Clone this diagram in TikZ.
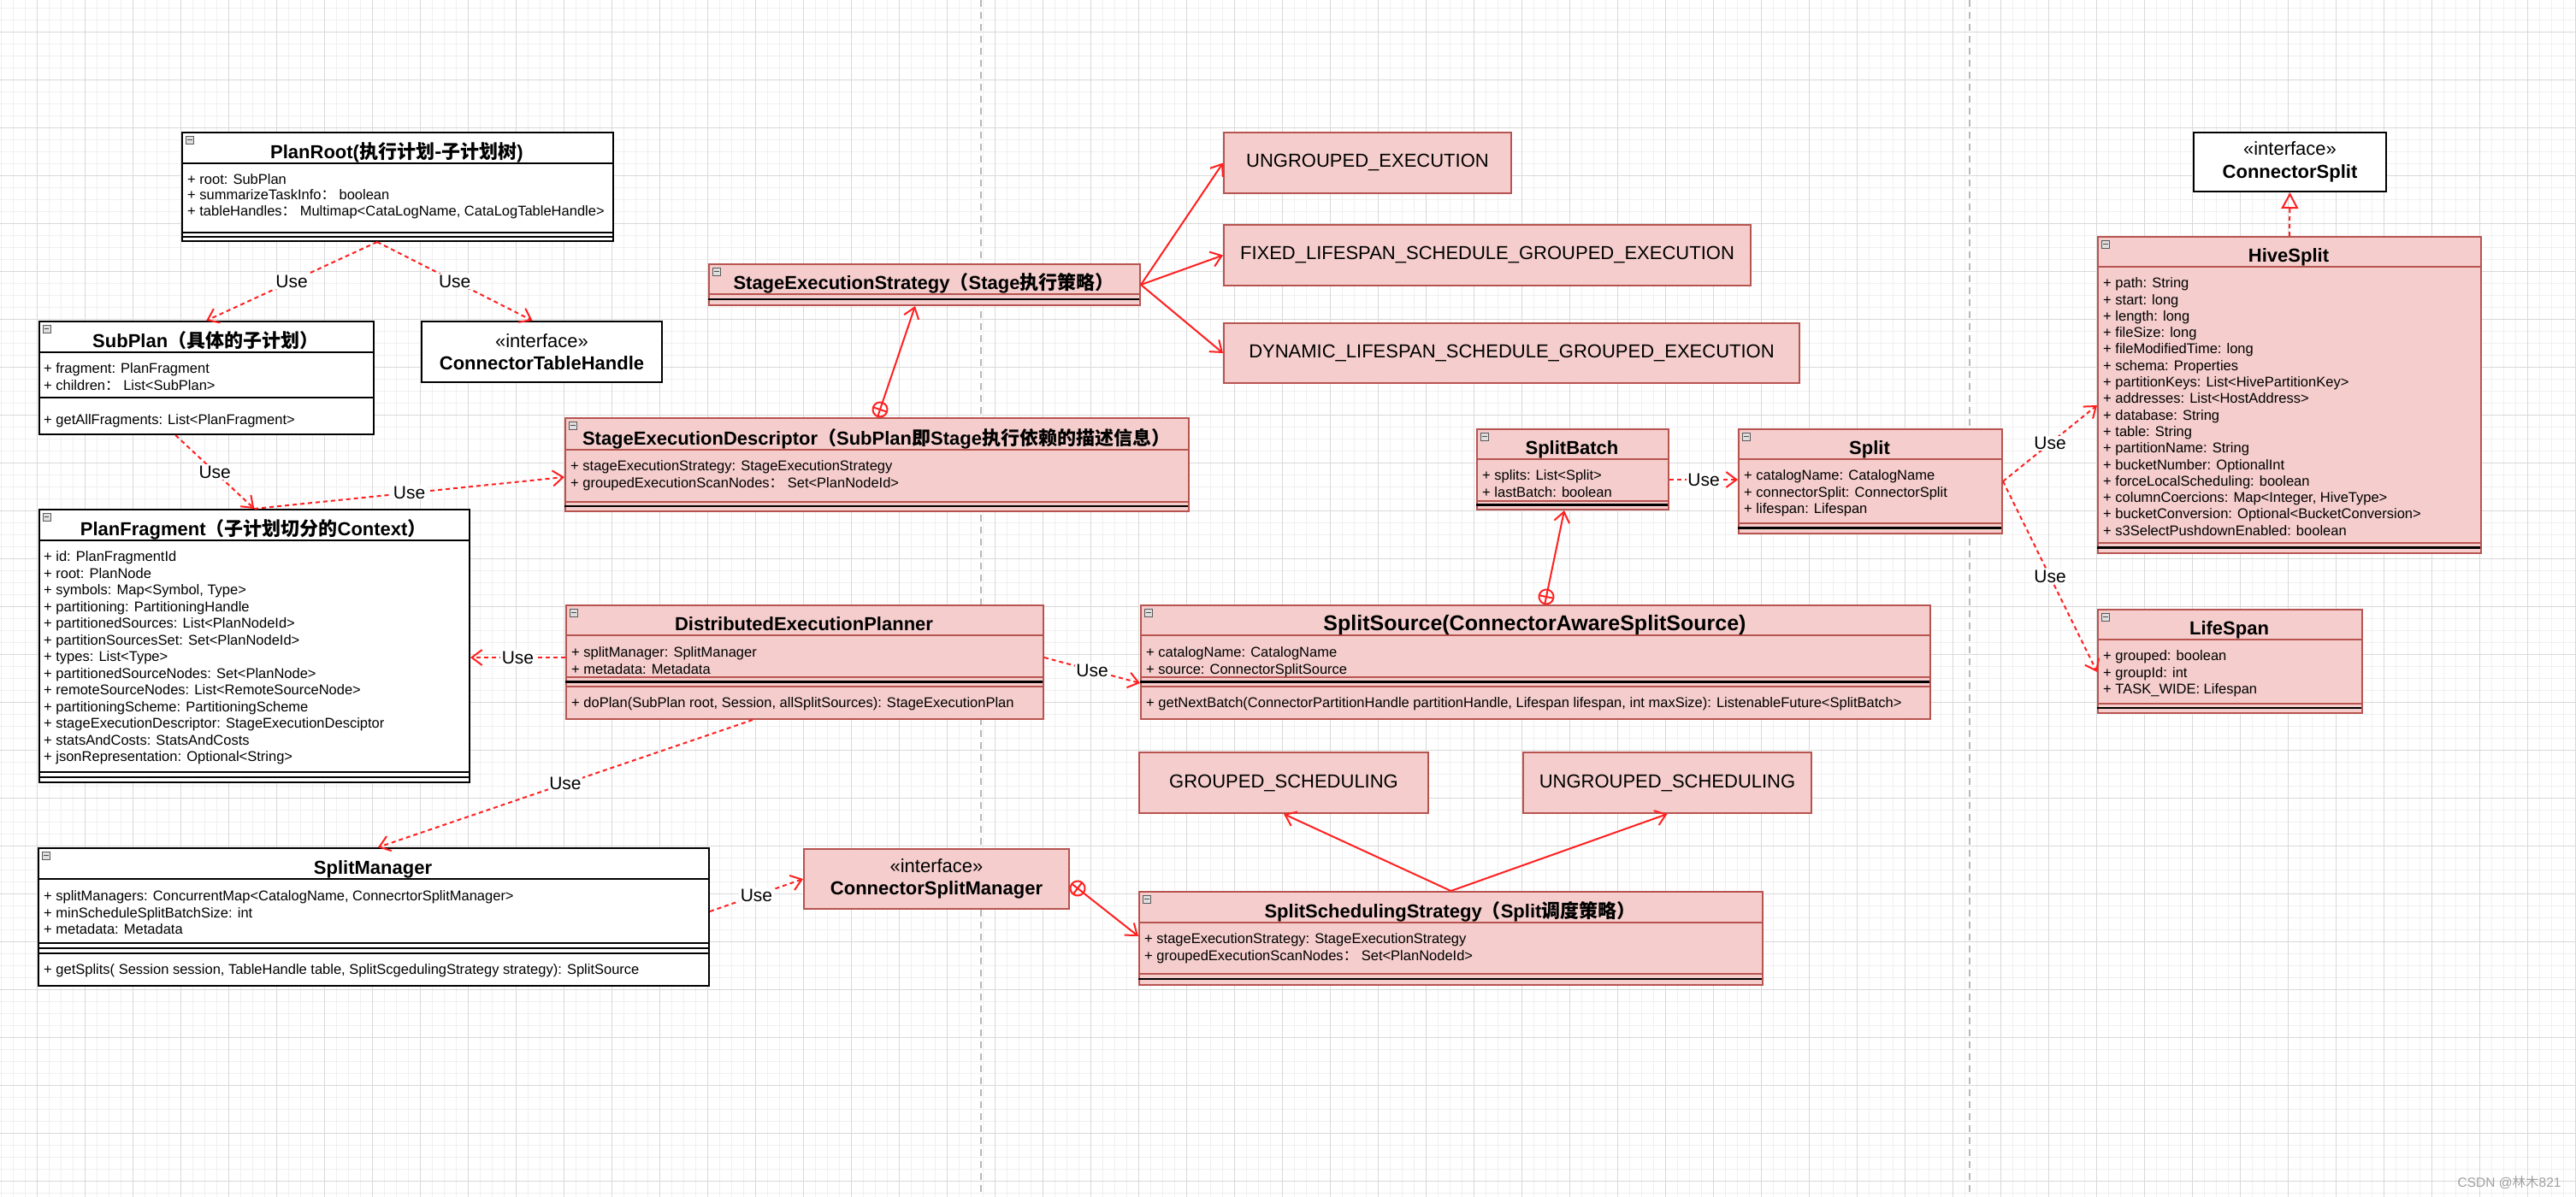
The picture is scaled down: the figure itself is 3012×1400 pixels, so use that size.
\documentclass[tikz,border=0pt]{standalone}
\usepackage{fontspec}
\setmainfont{Liberation Sans}
\newfontfamily\cjk{Noto Sans CJK SC}
\usetikzlibrary{arrows.meta}

\definecolor{umlpink}{HTML}{F4CDCC}
\definecolor{umlred}{HTML}{B85450}
\definecolor{linkred}{HTML}{FF2020}
\definecolor{gridmajor}{HTML}{D9D9D9}
\definecolor{gridminor}{HTML}{F0F0F0}

\newcommand{\zh}[1]{{\cjk #1}}
\newcommand{\attrfont}{\fontsize{16.5}{19.5}\selectfont}
\newcommand{\bigfont}{\fontsize{22}{26.5}\selectfont}
% class frame: name, pink/white, x1, y1, x2, y2, title line, title
\newcommand{\classbox}[8]{%
  \node[#2class, minimum width={#5-#3}, minimum height={#6-#4}] (#1) at (#3,#4) {};
  \draw[#2sep] (#3,#7) -- (#5,#7);
  \node[classtitle] (#1-title) at ({(#3+#5)/2},{#7-5.5}) {#8};
}
% compartment line: style, x1, x2, y
\newcommand{\sepline}[4]{\draw[#1] (#2,#4) -- (#3,#4);}

\tikzset{
  pinkclass/.style={draw=umlred, fill=umlpink, line width=2pt, inner sep=0pt, anchor=north west},
  whiteclass/.style={draw=black, fill=white, line width=2pt, inner sep=0pt, anchor=north west},
  pinksep/.style={draw=umlred, line width=2pt},
  whitesep/.style={draw=black, line width=2pt},
  blackbar/.style={draw=black, line width=2.6pt},
  classtitle/.style={anchor=base, inner sep=0pt, font=\bigfont\bfseries},
  attrs/.style={anchor=north west, align=left, inner sep=0pt, font=\attrfont},
  enumbox/.style={draw=umlred, fill=umlpink, line width=2pt, anchor=north west, inner sep=0pt, font=\bigfont},
  ifacebox/.style={draw=black, fill=white, line width=2pt, anchor=north west, inner sep=0pt, align=center, font=\bigfont},
  ifacepink/.style={ifacebox, draw=umlred, fill=umlpink},
  collapse/.style={draw=gray!70!black, fill=gray!25, line width=0.8pt, minimum size=9pt, inner sep=0pt, anchor=north west},
  oplus/.style={circle, draw=linkred, line width=2pt, minimum size=17pt, inner sep=0pt, outer sep=0pt},
  use/.style={draw=linkred, line width=2pt, dash pattern=on 5pt off 4pt, -{Straight Barb[length=12pt, width=18pt]}},
  assoc/.style={draw=linkred, line width=2pt, -{Straight Barb[length=12pt, width=18pt]}},
  realize/.style={draw=linkred, line width=2pt, dash pattern=on 5pt off 4pt, -{Triangle[open, length=19pt, width=20pt]}},
  uselabel/.style={fill=white, inner sep=1.5pt, font=\fontsize{21}{25}\selectfont},
  pageline/.style={draw=gray!55, line width=1.5pt, dash pattern=on 8pt off 6pt}
}

\begin{document}
\begin{tikzpicture}[x=1pt, y=-1pt]
\useasboundingbox (0,0) rectangle (3012,1400);
\fill[white] (0,0) rectangle (3012,1400);
% background grid and page borders
\begin{scope}[shift={(43.7,37.7)}]
  \draw[gridminor, line width=1pt, step=14pt] (-56,1380) grid (2990,-56);
  \draw[gridmajor, line width=1pt, step=56pt] (-56,1380) grid (2990,-56);
\end{scope}
\draw[pageline] (1147,0) -- (1147,1400);
\draw[pageline] (2303,0) -- (2303,1400);

% PlanRoot
\classbox{planroot}{white}{212}{154}{716}{281}{191}{PlanRoot(\zh{执行计划-子计划树})}
\sepline{whitesep}{212}{716}{272}
\sepline{whitesep}{212}{716}{276.5}
\node[attrs, font=\fontsize{16.5}{18.5}\selectfont] (planroot-attr) at (219,202) {\strut+ root: SubPlan\\+ summarizeTaskInfo\zh{：} boolean\\+ tableHandles\zh{：} Multimap<CataLogName, CataLogTableHandle>};

% SubPlan
\classbox{subplan}{white}{44.5}{375}{436}{507}{412}{SubPlan\zh{（具体的子计划）}}
\sepline{whitesep}{44.5}{436}{465}
\node[attrs] (subplan-attr) at (51,423) {\strut+ fragment: PlanFragment\\+ children\zh{：} List<SubPlan>};
\node[attrs] (subplan-op) at (51,482.5) {\strut+ getAllFragments: List<PlanFragment>};

\node[ifacebox, minimum width=281, minimum height=71] (cth) at (492,375) {«interface»\\\textbf{ConnectorTableHandle}};

% PlanFragment
\classbox{planfragment}{white}{44.5}{595}{548}{914}{632}{PlanFragment\zh{（子计划切分的}Context\zh{）}}
\sepline{whitesep}{44.5}{548}{903}
\sepline{whitesep}{44.5}{548}{908.5}
\node[attrs] (planfragment-attr) at (51,643) {\strut+ id: PlanFragmentId\\+ root: PlanNode\\+ symbols: Map<Symbol, Type>\\+ partitioning: PartitioningHandle\\+ partitionedSources: List<PlanNodeId>\\+ partitionSourcesSet: Set<PlanNodeId>\\+ types: List<Type>\\+ partitionedSourceNodes: Set<PlanNode>\\+ remoteSourceNodes: List<RemoteSourceNode>\\+ partitioningScheme: PartitioningScheme\\+ stageExecutionDescriptor: StageExecutionDesciptor\\+ statsAndCosts: StatsAndCosts\\+ jsonRepresentation: Optional<String>};

% StageExecutionStrategy and its values
\classbox{ses}{pink}{828}{308}{1332}{356}{344}{StageExecutionStrategy\zh{（}Stage\zh{执行策略）}}
\sepline{blackbar}{828}{1332}{350}
\node[enumbox, minimum width=336, minimum height=71] (ug) at (1430,154) {UNGROUPED\_EXECUTION};
\node[enumbox, minimum width=616, minimum height=71] (fixed) at (1430,262) {FIXED\_LIFESPAN\_SCHEDULE\_GROUPED\_EXECUTION};
\node[enumbox, minimum width=673, minimum height=70] (dyn) at (1430,377) {DYNAMIC\_LIFESPAN\_SCHEDULE\_GROUPED\_EXECUTION};

% StageExecutionDescriptor
\classbox{sed}{pink}{660}{488}{1389}{597}{526}{StageExecutionDescriptor\zh{（}SubPlan\zh{即}Stage\zh{执行依赖的描述信息）}}
\sepline{pinksep}{660}{1389}{587}
\sepline{blackbar}{660}{1389}{592}
\node[attrs] (sed-attr) at (667,537) {\strut+ stageExecutionStrategy: StageExecutionStrategy\\+ groupedExecutionScanNodes\zh{：} Set<PlanNodeId>};

% SplitBatch, Split
\classbox{sb}{pink}{1726}{501}{1950}{595}{537}{SplitBatch}
\sepline{pinksep}{1726}{1950}{586}
\sepline{blackbar}{1726}{1950}{590.5}
\node[attrs] (sb-attr) at (1733,548) {\strut+ splits: List<Split>\\+ lastBatch: boolean};

\classbox{split}{pink}{2032}{501}{2340}{623}{537}{Split}
\sepline{pinksep}{2032}{2340}{612}
\sepline{blackbar}{2032}{2340}{617.5}
\node[attrs] (split-attr) at (2039,548) {\strut+ catalogName: CatalogName\\+ connectorSplit: ConnectorSplit\\+ lifespan: Lifespan};

% ConnectorSplit, HiveSplit, LifeSpan
\node[ifacebox, minimum width=225, minimum height=69] (cs) at (2564,154) {«interface»\\\textbf{ConnectorSplit}};
\classbox{hs}{pink}{2452}{276}{2900}{646}{312}{HiveSplit}
\sepline{pinksep}{2452}{2900}{635}
\sepline{blackbar}{2452}{2900}{640.5}
\node[attrs, font=\fontsize{16.5}{19.3}\selectfont] (hs-attr) at (2459,323) {\strut+ path: String\\+ start: long\\+ length: long\\+ fileSize: long\\+ fileModifiedTime: long\\+ schema: Properties\\+ partitionKeys: List<HivePartitionKey>\\+ addresses: List<HostAddress>\\+ database: String\\+ table: String\\+ partitionName: String\\+ bucketNumber: OptionalInt\\+ forceLocalScheduling: boolean\\+ columnCoercions: Map<Integer, HiveType>\\+ bucketConversion: Optional<BucketConversion>\\+ s3SelectPushdownEnabled: boolean};

\classbox{ls}{pink}{2452}{712}{2761}{833}{748}{LifeSpan}
\sepline{pinksep}{2452}{2761}{823}
\sepline{blackbar}{2452}{2761}{828}
\node[attrs] (ls-attr) at (2459,759) {\strut+ grouped: boolean\\+ groupId: int\\+ TASK\_WIDE: Lifespan};

% DistributedExecutionPlanner, SplitSource
\classbox{dep}{pink}{661}{707}{1219}{840}{743}{DistributedExecutionPlanner}
\sepline{pinksep}{661}{1219}{792}
\sepline{blackbar}{661}{1219}{797.5}
\sepline{pinksep}{661}{1219}{803}
\node[attrs] (dep-attr) at (668,755) {\strut+ splitManager: SplitManager\\+ metadata: Metadata};
\node[attrs] (dep-op) at (668,814) {\strut+ doPlan(SubPlan root, Session, allSplitSources): StageExecutionPlan};

\classbox{ss}{pink}{1333}{707}{2256}{840}{743}{\fontsize{25}{28}\selectfont SplitSource(ConnectorAwareSplitSource)}
\sepline{pinksep}{1333}{2256}{792}
\sepline{blackbar}{1333}{2256}{797.5}
\sepline{pinksep}{1333}{2256}{803}
\node[attrs] (ss-attr) at (1340,755) {\strut+ catalogName: CatalogName\\+ source: ConnectorSplitSource};
\node[attrs] (ss-op) at (1340,814) {\strut+ getNextBatch(ConnectorPartitionHandle partitionHandle, Lifespan lifespan, int maxSize): ListenableFuture<SplitBatch>};

% SplitManager, ConnectorSplitManager
\classbox{sm}{white}{44}{991}{828}{1152}{1028}{SplitManager}
\sepline{whitesep}{44}{828}{1103}
\sepline{whitesep}{44}{828}{1108.5}
\sepline{whitesep}{44}{828}{1115}
\node[attrs] (sm-attr) at (51,1040) {\strut+ splitManagers: ConcurrentMap<CatalogName, ConnecrtorSplitManager>\\+ minScheduleSplitBatchSize: int\\+ metadata: Metadata};
\node[attrs] (sm-op) at (51,1126) {\strut+ getSplits( Session session, TableHandle table, SplitScgedulingStrategy strategy): SplitSource};

\node[ifacepink, minimum width=310, minimum height=70] (csm) at (939,992) {«interface»\\\textbf{ConnectorSplitManager}};

% SplitSchedulingStrategy and its values
\node[enumbox, minimum width=338, minimum height=71] (gs) at (1331,879) {GROUPED\_SCHEDULING};
\node[enumbox, minimum width=337, minimum height=71] (ugs) at (1780,879) {UNGROUPED\_SCHEDULING};
\classbox{sss}{pink}{1331}{1042}{2060}{1151}{1079}{SplitSchedulingStrategy\zh{（}Split\zh{调度策略）}}
\sepline{pinksep}{1331}{2060}{1139}
\sepline{blackbar}{1331}{2060}{1145}
\node[attrs] (sss-attr) at (1338,1090) {\strut+ stageExecutionStrategy: StageExecutionStrategy\\+ groupedExecutionScanNodes\zh{：} Set<PlanNodeId>};

% collapse icons
\foreach \c in {planroot,subplan,planfragment,ses,sed,sb,split,hs,ls,dep,ss,sm,sss} {
  \node[collapse] (\c-icon) at ([xshift=5pt,yshift=-5pt]\c.north west) {};
  \draw[gray!60!black, line width=1pt] ([xshift=2pt]\c-icon.west) -- ([xshift=-2pt]\c-icon.east);
}

% dependencies
\draw[use] ([xshift=-24pt]planroot.south) -- node[uselabel] (u1) {Use} (subplan.north);
\draw[use] ([xshift=-24pt]planroot.south) -- node[uselabel] (u2) {Use} ([xshift=-11pt]cth.north);
\draw[use] ([xshift=-36pt]subplan.south) -- node[uselabel] (u3) {Use} (planfragment.north);
\draw[use] (planfragment.north) -- node[uselabel] (u4) {Use} ([yshift=-14.5pt]sed.west);
\draw[use] ([yshift=5.5pt]dep.west) -- node[uselabel] (u5) {Use} ([yshift=-13.5pt]planfragment.east);
\draw[use] ([yshift=5.5pt]dep.east) -- node[uselabel] (u6) {Use} ([yshift=-24.5pt]ss.west);
\draw[use] ([xshift=-61pt]dep.south) -- node[uselabel] (u7) {Use} ([xshift=5pt]sm.north);
\draw[use] ([yshift=-12pt]sb.east) -- node[uselabel] (u8) {Use} ([yshift=2pt]split.west);
\draw[use] (split.east) -- node[uselabel] (u9) {Use} ([yshift=-12pt]hs.west);
\draw[use] (split.east) -- node[uselabel] (u10) {Use} ([yshift=-12.5pt]ls.west);
\draw[use] ([yshift=6.5pt]sm.east) -- node[uselabel] (u11) {Use} (csm.west);
\draw[realize] (hs.north) -- (cs.south);

% associations
\draw[assoc] (ses.east) -- (ug.west);
\draw[assoc] (ses.east) -- (fixed.west);
\draw[assoc] (ses.east) -- (dyn.west);
\draw[assoc] (sss.north) -- (gs.south);
\draw[assoc] (sss.north) -- (ugs.south);

% nesting
\node[oplus, rotate=-18.6] (o1) at ([xshift=3.5pt,yshift=9pt]sed.north) {};
\node[oplus, rotate=-11.5] (o2) at ([xshift=12.5pt,yshift=9pt]ss.north) {};
\node[oplus, rotate=-37.5] (o3) at ([xshift=9pt,yshift=-11pt]csm.east) {};
\foreach \o in {o1,o2,o3}
  \draw[linkred, line width=2pt] (\o.north) -- (\o.south) (\o.west) -- (\o.east);
\draw[assoc] (o1) -- ([xshift=-11pt]ses.south);
\draw[assoc] (o2) -- ([xshift=-10pt]sb.south);
\draw[assoc] (o3) -- ([yshift=2.5pt]sss.west);

\node[anchor=east, text=gray!75, font=\fontsize{15.5}{18}\selectfont] (csdn) at (2998,1383) {CSDN @\zh{林木}821};
\end{tikzpicture}
\end{document}
